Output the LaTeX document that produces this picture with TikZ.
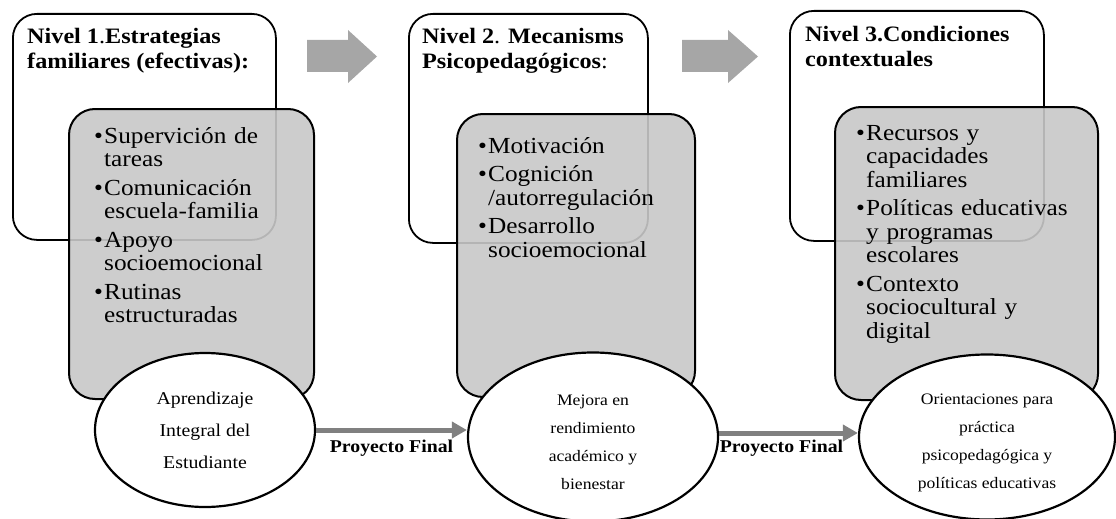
\documentclass[tikz,border=0pt]{standalone}
\usepackage{fontspec}
\setmainfont{Liberation Serif}[FakeStretch=1.1]
\usetikzlibrary{positioning,shapes.geometric,arrows.meta}
\definecolor{boxgray}{RGB}{200,200,200}
\definecolor{arrowgray}{RGB}{166,166,166}
\definecolor{linkgray}{RGB}{128,128,128}
\newcommand{\nlb}{\hfil\break}
\newcommand{\bul}[1]{\hangindent=10pt\hangafter=1\noindent\makebox[10pt][l]{•}#1\par}

\begin{document}
\begin{tikzpicture}[x=1pt, y=-1pt,
    levelbox/.style={draw, line width=1.8pt, rounded corners=24pt, anchor=north west, inner sep=0pt},
    listbox/.style={draw, line width=2pt, rounded corners=26pt, fill=boxgray, fill opacity=0.9, text opacity=1, anchor=north west, inner sep=0pt},
    leveltitle/.style={inner sep=0pt, align=left, font=\fontsize{22}{25}\selectfont},
    listitems/.style={inner sep=0pt, text width=220pt, align=left, font=\fontsize{23}{23.5}\selectfont\setlength{\parskip}{5pt}},
    outcome/.style={draw, ellipse, fill=white, line width=2.2pt, inner sep=0pt, align=center},
    link/.style={draw=linkgray, line width=5pt, -{Triangle[length=15pt,width=16pt]}},
    linklabel/.style={font=\fontsize{18}{20}\selectfont\bfseries, inner sep=0pt}]
    \useasboundingbox (0,0) rectangle (1116,519);

    % Nivel 1
    \node[levelbox, minimum width=263pt, minimum height=226pt] (lvl1) at (12,13) {};
    \node[leveltitle, below right=15pt and 15pt of lvl1.north west] (title1)
        {\textbf{Nivel 1}.\textbf{Estrategias}\\\textbf{familiares (efectivas):}};
    \node[listbox, minimum width=245pt, minimum height=290pt] (list1) at (68,108) {};
    \node[listitems, below right=19pt and 26pt of list1.north west] (items1)
        {\bul{Supervición de\nlb tareas}\bul{Comunicación\nlb escuela-familia}\bul{Apoyo\nlb socioemocional}\bul{Rutinas\nlb estructuradas}};
    \node[outcome, minimum width=220pt, minimum height=154pt, font=\fontsize{18}{32}\selectfont] (res1) at (205,430)
        {Aprendizaje\\Integral del\\Estudiante};

    % Nivel 2
    \node[levelbox, minimum width=239pt, minimum height=229pt] (lvl2) at (408,13) {};
    \node[leveltitle, below right=15pt and 14pt of lvl2.north west] (title2)
        {\textbf{Nivel 2}. \textbf{Mecanisms}\\\textbf{Psicopedagógicos}:};
    \node[listbox, minimum width=238pt, minimum height=283pt] (list2) at (456,113) {};
    \node[listitems, below right=24pt and 22pt of list2.north west] (items2)
        {\bul{Motivación}\bul{Cognición\nlb /autorregulación}\bul{Desarrollo\nlb socioemocional}};
    \node[outcome, minimum width=250pt, minimum height=169pt, font=\fontsize{16}{28}\selectfont] (res2) at (593,437)
        {\rule{0pt}{21pt}Mejora en\\rendimiento\\académico y\\bienestar};

    % Nivel 3
    \node[levelbox, minimum width=254pt, minimum height=230pt] (lvl3) at (789,10) {};
    \node[leveltitle, below right=16pt and 16pt of lvl3.north west] (title3)
        {\textbf{Nivel 3.Condiciones}\\\textbf{contextuales}};
    \node[listbox, minimum width=263pt, minimum height=293pt] (list3) at (834,106) {};
    \node[listitems, below right=19pt and 22pt of list3.north west] (items3)
        {\bul{Recursos y\nlb capacidades\nlb familiares}\bul{Políticas educativas\nlb y programas\nlb escolares}\bul{Contexto\nlb sociocultural y\nlb digital}};
    \node[outcome, minimum width=256pt, minimum height=165pt, font=\fontsize{16}{28}\selectfont] (res3) at (987,437)
        {\rule{0pt}{22pt}Orientaciones para\\práctica\\psicopedagógica y\\políticas educativas};

    % flechas superiores
    \foreach \x/\h/\t in {307/348/377, 682/728/758} {
        \fill[arrowgray] (\x,40) -- (\h,40) -- (\h,30) -- (\t,56.5) -- (\h,83) -- (\h,72) -- (\x,72) -- cycle;
    }

    % flechas inferiores
    \draw[link] (res1.east) -- (res1.east -| res2.west)
        node[linklabel, midway, below=8pt] (pf1) {Proyecto Final};
    \draw[link] ([yshift=4pt]res2.east) -- ([yshift=4pt]res3.west)
        node[linklabel, midway, below=5pt, xshift=-7pt] (pf2) {Proyecto Final};
\end{tikzpicture}
\end{document}
